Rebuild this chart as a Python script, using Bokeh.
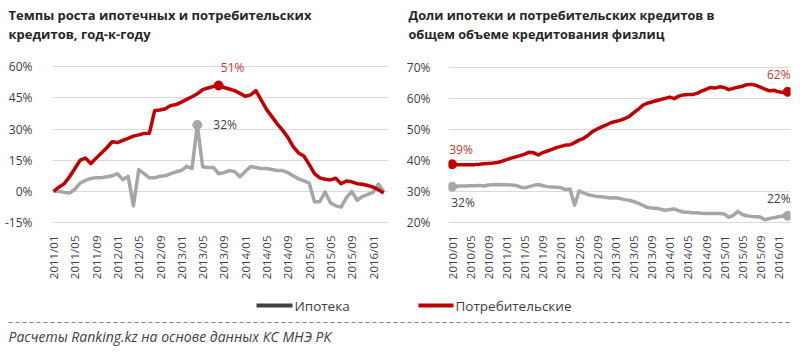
import math
from bokeh.plotting import figure
from bokeh.layouts import column, row
from bokeh.models import Range1d, FixedTicker, PrintfTickFormatter
from bokeh.core.properties import value
from bokeh.embed import file_html
from bokeh.resources import INLINE

FONT = "Open Sans"
TXT = "#404040"
GRAY = "#A6A6A6"
RED = "#C00000"
RED_LBL = "#C0392B"

# ---------------- data ----------------
# Left chart: year-over-year growth, 2011/01 .. 2016/03 (monthly)
growth_mortgage = [0, 0, -0.5, -0.8, 1, 4, 5.3, 6.2, 6.6, 6.6, 7, 7.5, 8.5, 5.6, 7.3, -7,
                   10.5, 8.5, 6.5, 6.5, 7.3, 7.5, 8.5, 9.4, 10, 12, 11, 32, 11.8, 11.5,
                   11.5, 8.5, 9, 10, 9.5, 7, 9.5, 12, 11.5, 11, 11, 10.5, 10, 10, 9, 7.5,
                   6, 5, 4, -5, -5, -0.3, -5.5, -7, -7.6, -3, 0, -4.3, -2.5, -1.5, -0.5,
                   3.5, 0]
growth_consumer = [0, 2, 3.7, 7, 11, 15, 16, 13.4, 16, 18.5, 21, 23.9, 23.5, 24.5, 25.5,
                   26.6, 27.2, 27.9, 28, 39, 39.2, 39.8, 41.3, 41.8, 43, 44.3, 45.6, 47,
                   49, 49.8, 50.5, 51, 50, 49.3, 48.5, 47.2, 45.8, 46.5, 48.5, 44, 39.5,
                   36, 32.5, 29.5, 26, 21.5, 18.5, 17, 13, 8.5, 6.5, 5.8, 5.5, 6.3, 3.7,
                   5, 4.6, 3.7, 3.4, 2.8, 2, 0.8, -0.8]
left_ticks = [0, 4, 8, 12, 16, 20, 24, 28, 32, 36, 40, 44, 48, 52, 56, 60]
left_tick_labels = ["2011/01", "2011/05", "2011/09", "2012/01", "2012/05", "2012/09",
                    "2013/01", "2013/05", "2013/09", "2014/01", "2014/05", "2014/09",
                    "2015/01", "2015/05", "2015/09", "2016/01"]
left_yticks = [-15, 0, 15, 30, 45, 60]

# Right chart: shares in total retail lending, 2010/01 .. 2016/03 (monthly)
share_mortgage = [31.6, 31.7, 31.8, 31.8, 31.9, 31.9, 32.0, 31.8, 32.1, 32.2, 32.3, 32.2,
                  32.2, 32.1, 32.0, 31.5, 31.2, 31.6, 32.0, 32.3, 31.9, 31.6, 31.5, 31.4,
                  31.3, 30.6, 30.8, 25.6, 30.2, 29.6, 29.0, 28.7, 28.4, 28.3, 28.1, 27.9,
                  28.0, 27.8, 27.4, 27.2, 26.8, 26.3, 25.6, 24.9, 24.7, 24.6, 24.3, 24.0,
                  24.2, 24.4, 23.8, 23.4, 23.3, 23.2, 23.2, 23.0, 22.9, 22.9, 22.9, 22.9,
                  22.8, 21.7, 22.3, 23.6, 22.6, 22.2, 22.0, 21.9, 21.8, 20.9, 21.3, 21.6,
                  21.9, 22.1, 22.2]
share_consumer = [38.8, 38.7, 38.7, 38.7, 38.7, 38.7, 38.8, 39.0, 39.1, 39.2, 39.4, 39.8,
                  40.3, 40.8, 41.2, 41.6, 42.1, 42.7, 42.5, 41.8, 42.6, 43.1, 43.6, 44.2,
                  44.6, 45.0, 45.1, 45.8, 46.6, 47.2, 48.2, 49.4, 50.2, 50.9, 51.5, 52.2,
                  52.6, 53.0, 53.5, 54.2, 55.4, 56.5, 57.8, 58.5, 58.9, 59.3, 59.7, 60.1,
                  60.5, 60.0, 60.8, 61.2, 61.3, 61.3, 61.7, 62.4, 63.0, 63.6, 63.4, 63.8,
                  63.6, 62.9, 63.3, 63.7, 64.0, 64.5, 64.6, 64.3, 63.7, 63.1, 62.5, 62.7,
                  62.2, 62.0, 62.2]
right_ticks = [0, 4, 8, 12, 16, 20, 24, 28, 32, 36, 40, 44, 48, 52, 56, 60, 64, 68, 72]
right_tick_labels = ["2010/01", "2010/05", "2010/09", "2011/01", "2011/05", "2011/09",
                     "2012/01", "2012/05", "2012/09", "2013/01", "2013/05", "2013/09",
                     "2014/01", "2014/05", "2014/09", "2015/01", "2015/05", "2015/09",
                     "2016/01"]
right_yticks = [20, 30, 40, 50, 60, 70]

titles_left = ["Темпы роста ипотечных и потребительских", "кредитов, год-к-году"]
titles_right = ["Доли ипотеки и потребительских кредитов в", "общем объеме кредитования физлиц"]
legend_names = ["Ипотека", "Потребительские"]
source_text = "Расчеты Ranking.kz на основе данных КС МНЭ РК"


def strip(width, height):
    p = figure(width=width, height=height, output_backend="svg", toolbar_location=None,
               x_range=Range1d(0, width), y_range=Range1d(height, 0),
               x_axis_type=None, y_axis_type=None)
    p.min_border = 0
    p.outline_line_color = None
    p.xgrid.visible = False
    p.ygrid.visible = False
    p.background_fill_color = "white"
    p.border_fill_color = "white"
    return p


def chart(xr, yr, xt, xl, yt, left_border, right_border, ystand):
    p = figure(width=400, height=242, output_backend="svg", toolbar_location=None,
               x_range=Range1d(*xr), y_range=Range1d(*yr))
    p.min_border_left = left_border
    p.min_border_right = right_border
    p.min_border_top = 10
    p.min_border_bottom = 67
    p.outline_line_color = None
    p.xgrid.visible = False
    p.ygrid.grid_line_color = "#D9D9D9"
    p.ygrid.grid_line_width = 1
    p.ygrid.ticker = FixedTicker(ticks=yt)
    xa = p.xaxis[0]
    xa.ticker = FixedTicker(ticks=xt)
    xa.major_label_overrides = {t: l for t, l in zip(xt, xl)}
    xa.major_label_orientation = math.pi / 2
    xa.axis_line_color = None
    xa.major_tick_line_color = None
    xa.minor_tick_line_color = None
    xa.major_label_standoff = 6
    xa.major_label_text_font = FONT
    xa.major_label_text_font_size = "11.5px"
    xa.major_label_text_color = TXT
    ya = p.yaxis[0]
    ya.ticker = FixedTicker(ticks=yt)
    ya.formatter = PrintfTickFormatter(format="%d%%")
    ya.axis_line_color = None
    ya.major_tick_line_color = None
    ya.minor_tick_line_color = None
    ya.major_label_standoff = ystand
    ya.major_label_text_font = FONT
    ya.major_label_text_font_size = "12px"
    ya.major_label_text_color = TXT
    return p


def lbl(p, x, y, color, align, xo, yo):
    p.text(x=[x], y=[y], text=[f"{round(y)}%"], text_font=value(FONT),
           text_font_size="12px", text_color=color, text_align=align,
           text_baseline="middle", x_offset=xo, y_offset=yo)


# ---------------- top strip with titles ----------------
top = strip(800, 48)
top.text(x=[8, 8], y=[14, 33], text=titles_left, text_font=value(FONT),
         text_font_style="bold", text_font_size="13px", text_color="#262626",
         text_baseline="middle", text_align="left")
top.text(x=[408, 408], y=[14, 33], text=titles_right, text_font=value(FONT),
         text_font_style="bold", text_font_size="12.7px", text_color="#262626",
         text_baseline="middle", text_align="left")

# ---------------- left chart ----------------
p1 = chart((-0.2, 62.9), (-15.5, 64.0), left_ticks, left_tick_labels, left_yticks, 52, 12, 14)
xl = list(range(len(growth_consumer)))
p1.line(xl, growth_mortgage, line_color=GRAY, line_width=3.5, line_join="round")
p1.line(xl, growth_consumer, line_color=RED, line_width=3.5, line_join="round")
im = growth_mortgage.index(max(growth_mortgage))
ic = growth_consumer.index(max(growth_consumer))
p1.scatter([im], [growth_mortgage[im]], size=9, color=GRAY)
p1.scatter([ic], [growth_consumer[ic]], size=9, color=RED)
lbl(p1, ic, growth_consumer[ic], RED_LBL, "center", 14, -18)
lbl(p1, im, growth_mortgage[im], TXT, "left", 16, 0)

# ---------------- right chart ----------------
p2 = chart((-0.82, 74.64), (19.7, 72.95), right_ticks, right_tick_labels, right_yticks, 48, 10, 12)
xr = list(range(len(share_consumer)))
p2.line(xr, share_mortgage, line_color=GRAY, line_width=3.5, line_join="round")
p2.line(xr, share_consumer, line_color=RED, line_width=3.5, line_join="round")
ends = [0, len(xr) - 1]
p2.scatter(ends, [share_mortgage[i] for i in ends], size=9, color=GRAY)
p2.scatter(ends, [share_consumer[i] for i in ends], size=9, color=RED)
lbl(p2, 0, share_consumer[0], RED_LBL, "left", -3, -15)
lbl(p2, 0, share_mortgage[0], TXT, "left", -1, 16)
lbl(p2, ends[1], share_consumer[-1], RED_LBL, "right", 3, -17)
lbl(p2, ends[1], share_mortgage[-1], TXT, "right", 3, -17)

# ---------------- bottom strip: legend + source ----------------
bot = strip(800, 66)
bot.segment(x0=[256], y0=[15], x1=[292], y1=[15], line_color="#404040", line_width=4)
bot.segment(x0=[418], y0=[15], x1=[453], y1=[15], line_color=RED, line_width=4)
bot.text(x=[294, 455], y=[15, 15], text=legend_names, text_font=value(FONT),
         text_font_size="13.5px", text_color=TXT, text_baseline="middle", text_align="left")
bot.segment(x0=[8], y0=[32], x1=[790], y1=[32], line_color="#7F7F7F", line_width=1,
            line_dash="4 3")
bot.text(x=[8], y=[46], text=[source_text], text_font=value(FONT), text_font_style="italic",
         text_font_size="14px", text_color=TXT, text_baseline="middle", text_align="left")

layout = column(top, row(p1, p2), bot)
open("out.html", "w").write(file_html(layout, INLINE))
